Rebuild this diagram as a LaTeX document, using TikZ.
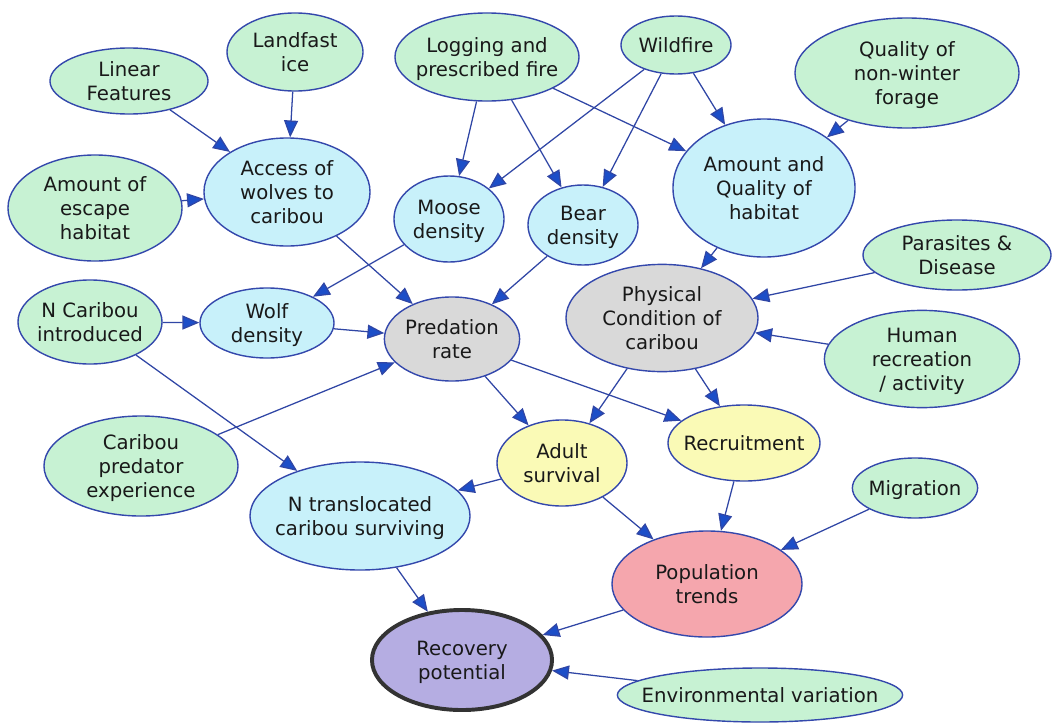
\documentclass[tikz,border=0pt]{standalone}
\usepackage{fontspec}
\setmainfont{DejaVu Sans}
\usetikzlibrary{shapes.geometric,arrows.meta}

\definecolor{grn}{RGB}{199,242,211}
\definecolor{cyn}{RGB}{200,241,250}
\definecolor{gry}{RGB}{217,217,217}
\definecolor{ylw}{RGB}{250,250,182}
\definecolor{pnk}{RGB}{245,166,173}
\definecolor{prp}{RGB}{181,173,226}
\definecolor{bord}{RGB}{52,72,172}
\definecolor{edge}{RGB}{48,70,165}
\definecolor{tip}{RGB}{28,78,200}

% text of a bubble, kept out of the shape size
\newcommand{\etxt}[1]{\makebox[0pt]{\raisebox{-5.7pt}[0pt][0pt]{\begin{tabular}{@{}c@{}}#1\end{tabular}}}}

\begin{document}
\begin{tikzpicture}[x=0.025cm,y=-0.025cm,
    bub/.style={ellipse,draw=bord,line width=1pt,inner sep=0pt,
        font=\fontsize{14}{17}\selectfont,text=black!90},
    src/.style={bub,fill=grn},
    mid/.style={bub,fill=cyn},
    cond/.style={bub,fill=gry},
    demo/.style={bub,fill=ylw},
    cause/.style={draw=edge,line width=0.9pt,
        -{Triangle[length=12pt,width=10pt,fill=tip]}}]
    \useasboundingbox (0,0) rectangle (1052,723);
    %\draw[gray!30, step=50] (0,0) grid (1052,723);

    % drivers
    \node[src,minimum width=3.95cm,minimum height=1.65cm] (lin) at (129,81) {\etxt{Linear\\Features}};
    \node[src,minimum width=3.4cm,minimum height=1.95cm] (ice) at (295,52) {\etxt{Landfast\\ice}};
    \node[src,minimum width=4.6cm,minimum height=2.2cm] (log) at (487,57) {\etxt{Logging and\\prescribed fire}};
    \node[src,minimum width=2.75cm,minimum height=1.45cm] (fire) at (676,45) {\etxt{Wildfire}};
    \node[src,minimum width=5.6cm,minimum height=2.75cm] (forage) at (907,73) {\etxt{Quality of\\non-winter\\forage}};
    \node[src,minimum width=4.35cm,minimum height=2.65cm] (esc) at (95,208) {\etxt{Amount of\\escape\\habitat}};
    \node[src,minimum width=4.7cm,minimum height=1.75cm] (paras) at (957,255) {\etxt{Parasites \&\\Disease}};
    \node[src,minimum width=4.88cm,minimum height=2.43cm] (human) at (922,359) {\etxt{Human\\recreation\\/ activity}};
    \node[src,minimum width=3.6cm,minimum height=2.1cm] (ncar) at (90,322) {\etxt{N Caribou\\introduced}};
    \node[src,minimum width=4.85cm,minimum height=2.5cm] (exper) at (141,466) {\etxt{Caribou\\predator\\experience}};
    \node[src,minimum width=3.13cm,minimum height=1.5cm] (migr) at (915,488) {\etxt{Migration}};
    \node[src,minimum width=7.13cm,minimum height=1.35cm] (env) at (760,695) {\etxt{Environmental variation}};

    % intermediate
    \node[mid,minimum width=4.15cm,minimum height=2.7cm] (access) at (287,192) {\etxt{Access of\\wolves to\\caribou}};
    \node[mid,minimum width=2.75cm,minimum height=2.15cm] (moose) at (449,219) {\etxt{Moose\\density}};
    \node[mid,minimum width=2.75cm,minimum height=2cm] (bear) at (583,225) {\etxt{Bear\\density}};
    \node[mid,minimum width=4.55cm,minimum height=3.45cm] (habitat) at (764,188) {\etxt{Amount and\\Quality of\\habitat}};
    \node[mid,minimum width=3.35cm,minimum height=1.75cm] (wolf) at (267,323) {\etxt{Wolf\\density}};
    \node[mid,minimum width=5.5cm,minimum height=2.7cm] (ntrans) at (360,516) {\etxt{N translocated\\caribou surviving}};

    \node[cond,minimum width=3.38cm,minimum height=2.1cm] (pred) at (452,339) {\etxt{Predation\\rate}};
    \node[cond,minimum width=4.8cm,minimum height=2.68cm] (phys) at (662,318) {\etxt{Physical\\Condition of\\caribou}};

    \node[demo,minimum width=3.25cm,minimum height=2.15cm] (adult) at (562,463) {\etxt{Adult\\survival}};
    \node[demo,minimum width=3.8cm,minimum height=1.9cm] (recr) at (744,443) {\etxt{Recruitment}};

    \node[bub,fill=pnk,minimum width=4.75cm,minimum height=2.65cm] (pop) at (707,584) {\etxt{Population\\trends}};
    \node[bub,fill=prp,draw=black!80,line width=2.8pt,minimum width=4.5cm,minimum height=2.5cm] (recov) at (462,660) {\etxt{Recovery\\potential}};

    \foreach \a/\b in {lin/access,ice/access,esc/access,access/pred,
        log/moose,log/bear,log/habitat,fire/moose,fire/bear,fire/habitat,
        forage/habitat,moose/wolf,bear/pred,habitat/phys,paras/phys,human/phys,
        ncar/wolf,wolf/pred,ncar/ntrans,exper/pred,pred/adult,pred/recr,
        phys/adult,phys/recr,adult/ntrans,adult/pop,recr/pop,migr/pop,
        ntrans/recov,pop/recov,env/recov}
        \draw[cause] (\a) -- (\b);

\end{tikzpicture}
\end{document}
